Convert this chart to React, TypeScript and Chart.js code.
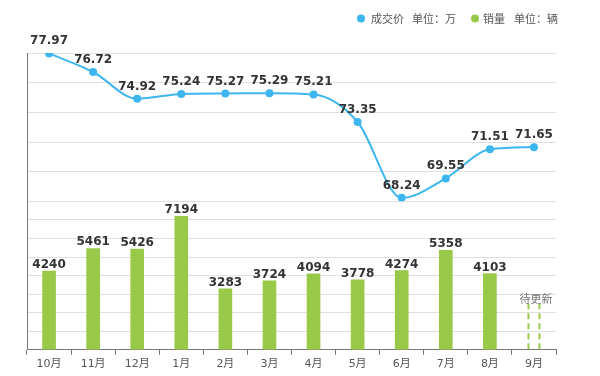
import React, { useEffect, useRef } from "react";
import { Chart, registerables } from "chart.js";

Chart.register(...registerables);

const months = ["10月", "11月", "12月", "1月", "2月", "3月", "4月", "5月", "6月", "7月", "8月", "9月"];
const priceValues = [77.97, 76.72, 74.92, 75.24, 75.27, 75.29, 75.21, 73.35, 68.24, 69.55, 71.51, 71.65];
const salesValues = [4240, 5461, 5426, 7194, 3283, 3724, 4094, 3778, 4274, 5358, 4103];
const pendingPlaceholder = 2650;
const pendingText = "待更新";
const priceLegend = ["成交价", "单位：万"];
const salesLegend = ["销量", "单位：辆"];

const BLUE = "#3db6f0";
const GREEN = "#98c949";

const labelPlugin = {
  id: "customLabels",
  afterDatasetsDraw(chart: any) {
    const ctx = chart.ctx as CanvasRenderingContext2D;
    ctx.save();
    const lineMeta = chart.getDatasetMeta(0);
    ctx.font = "bold 12px 'DejaVu Sans'";
    ctx.fillStyle = "#333";
    ctx.textAlign = "center";
    ctx.textBaseline = "alphabetic";
    lineMeta.data.forEach((pt: any, i: number) => {
      ctx.fillText(priceValues[i].toFixed(2), pt.x, pt.y - 9);
    });
    const barMeta = chart.getDatasetMeta(1);
    barMeta.data.forEach((bar: any, i: number) => {
      if (i < salesValues.length) {
        ctx.font = "bold 12px 'DejaVu Sans'";
        ctx.fillStyle = "#333";
        ctx.fillText(String(salesValues[i]), bar.x, bar.y - 3);
      } else {
        const w = bar.width;
        ctx.strokeStyle = GREEN;
        ctx.lineWidth = 2;
        ctx.setLineDash([6, 4]);
        ctx.beginPath();
        ctx.moveTo(bar.x - w / 2 + 1, bar.base);
        ctx.lineTo(bar.x - w / 2 + 1, bar.y);
        ctx.moveTo(bar.x + w / 2 - 1, bar.base);
        ctx.lineTo(bar.x + w / 2 - 1, bar.y);
        ctx.stroke();
        ctx.setLineDash([]);
        ctx.font = "11px 'Noto Sans CJK SC'";
        ctx.fillStyle = "#777";
        ctx.fillText(pendingText, bar.x + 2, bar.y + 2);
      }
    });
    ctx.textAlign = "left";
    ctx.textBaseline = "middle";
    ctx.font = "11px 'Noto Sans CJK SC'";
    const ly = 18.5;
    ctx.fillStyle = BLUE;
    ctx.beginPath();
    ctx.arc(361, ly, 4, 0, Math.PI * 2);
    ctx.fill();
    ctx.fillStyle = "#555";
    ctx.fillText(priceLegend[0], 371, ly);
    ctx.fillText(priceLegend[1], 412, ly);
    ctx.fillStyle = GREEN;
    ctx.beginPath();
    ctx.arc(475, ly, 4, 0, Math.PI * 2);
    ctx.fill();
    ctx.fillStyle = "#555";
    ctx.fillText(salesLegend[0], 483, ly);
    ctx.fillText(salesLegend[1], 514, ly);
    ctx.restore();
  },
};

export default function App() {
  const ref = useRef<HTMLCanvasElement>(null);
  useEffect(() => {
    document.body.style.margin = "0";
    const barData = [...salesValues, pendingPlaceholder];
    const barColors = barData.map((_, i) => (i < salesValues.length ? GREEN : "rgba(0,0,0,0)"));
    const chart = new Chart(ref.current!, {
      type: "bar",
      data: {
        labels: months,
        datasets: [
          {
            type: "line",
            label: "成交价",
            data: priceValues,
            yAxisID: "yLine",
            borderColor: BLUE,
            backgroundColor: BLUE,
            borderWidth: 2,
            pointRadius: 4,
            pointBackgroundColor: BLUE,
            pointBorderWidth: 0,
            cubicInterpolationMode: "monotone",
            order: 0,
          } as any,
          {
            type: "bar",
            label: "销量",
            data: barData,
            yAxisID: "yBar",
            backgroundColor: barColors,
            barThickness: 13,
            order: 1,
          },
        ],
      },
      options: {
        responsive: false,
        animation: false,
        devicePixelRatio: 1,
        layout: { padding: { left: 27, right: 44, top: 53, bottom: 2 } },
        plugins: { legend: { display: false }, tooltip: { enabled: false } },
        scales: {
          x: {
            type: "category",
            offset: true,
            grid: { offset: true, drawOnChartArea: false, drawTicks: true, tickLength: 5, color: "#777" },
            border: { color: "#777" },
            ticks: { color: "#555", font: { size: 11, family: "'DejaVu Sans', 'Noto Sans CJK SC'" }, padding: 3 },
          },
          yBar: {
            type: "linear",
            position: "left",
            stack: "s",
            stackWeight: 1,
            min: 0,
            max: 8000,
            ticks: { display: false, stepSize: 1000 },
            grid: { color: "#e0e0e0", drawTicks: false },
            border: { color: "#777" },
          },
          yLine: {
            type: "linear",
            position: "left",
            stack: "s",
            stackWeight: 1,
            min: 68,
            max: 78,
            ticks: { display: false, stepSize: 2 },
            grid: { color: "#e0e0e0", drawTicks: false },
            border: { color: "#777" },
          },
        } as any,
      },
      plugins: [labelPlugin],
    });
    return () => chart.destroy();
  }, []);
  return (
    <div style={{ width: 600, height: 376 }}>
      <canvas ref={ref} width={600} height={376} style={{ display: "block" }} />
    </div>
  );
}
